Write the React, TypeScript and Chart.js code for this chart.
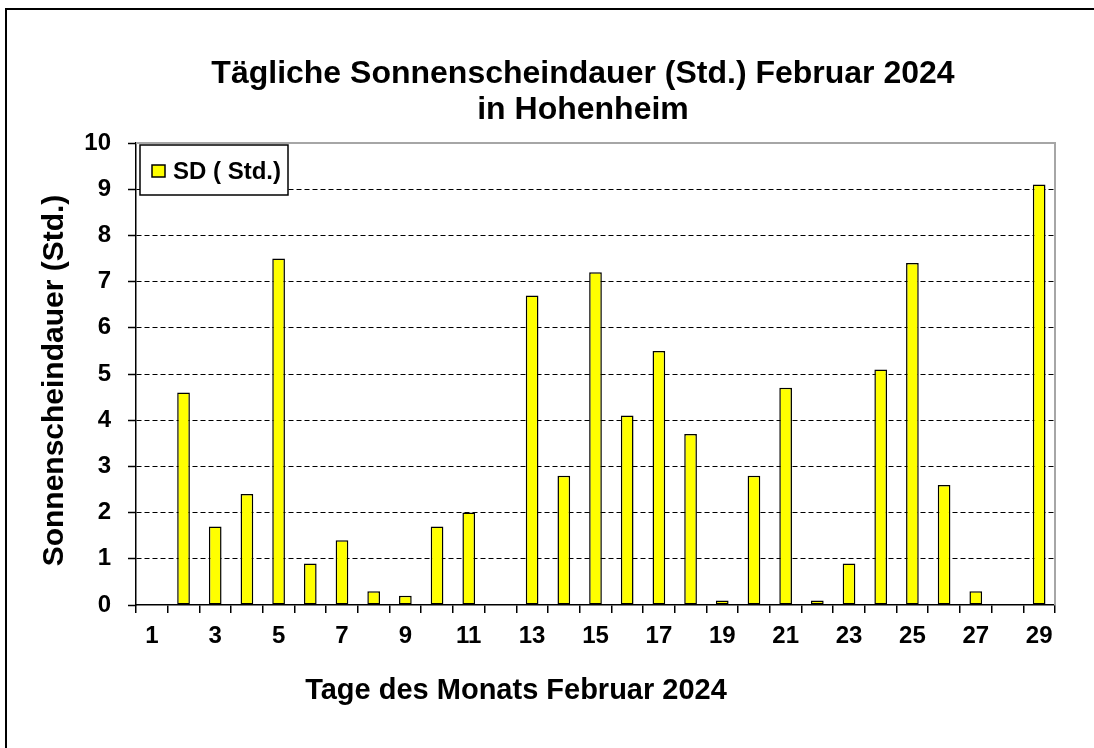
import React, { useEffect, useRef } from "react";
import { Chart, registerables } from "chart.js";

Chart.register(...registerables);

const days: string[] = [
  "1", "2", "3", "4", "5", "6", "7", "8", "9", "10",
  "11", "12", "13", "14", "15", "16", "17", "18", "19", "20",
  "21", "22", "23", "24", "25", "26", "27", "28", "29",
];
const sunshineHours: number[] = [
  0, 4.6, 1.7, 2.4, 7.5, 0.9, 1.4, 0.3, 0.2, 1.7,
  2.0, 0, 6.7, 2.8, 7.2, 4.1, 5.5, 3.7, 0.1, 2.8,
  4.7, 0.1, 0.9, 5.1, 7.4, 2.6, 0.3, 0, 9.1,
];
const xTickLabels: string[] = [
  "1", "", "3", "", "5", "", "7", "", "9", "",
  "11", "", "13", "", "15", "", "17", "", "19", "",
  "21", "", "23", "", "25", "", "27", "", "29",
];
const seriesLabel = "SD ( Std.)";
const titleLines: string[] = ["Tägliche Sonnenscheindauer (Std.) Februar 2024", "in Hohenheim"];
const xAxisTitle = "Tage des Monats Februar 2024";
const yAxisTitle = "Sonnenscheindauer (Std.)";

const FONT = '"Liberation Sans", Arial, sans-serif';

const decorPlugin = {
  id: "decor",
  beforeDatasetsDraw(chart: any) {
    const { ctx, chartArea } = chart;
    ctx.save();
    ctx.strokeStyle = "#a6a6a6";
    ctx.lineWidth = 2;
    ctx.beginPath();
    ctx.moveTo(chartArea.left, chartArea.top);
    ctx.lineTo(chartArea.right, chartArea.top);
    ctx.lineTo(chartArea.right, chartArea.bottom);
    ctx.stroke();
    ctx.restore();
  },
  afterDraw(chart: any) {
    const { ctx, chartArea } = chart;
    ctx.save();
    // legend box
    const lx = chartArea.left + 4;
    const ly = chartArea.top + 2;
    ctx.fillStyle = "#ffffff";
    ctx.fillRect(lx, ly, 148, 50);
    ctx.strokeStyle = "#000";
    ctx.lineWidth = 1.5;
    ctx.strokeRect(lx, ly, 148, 50);
    ctx.fillStyle = "#ffff00";
    ctx.fillRect(lx + 12, ly + 20, 13, 12);
    ctx.strokeRect(lx + 12, ly + 20, 13, 12);
    ctx.fillStyle = "#000";
    ctx.font = `bold 24px ${FONT}`;
    ctx.textAlign = "left";
    ctx.textBaseline = "alphabetic";
    ctx.fillText(seriesLabel, lx + 33, ly + 34);

    // titles
    ctx.textAlign = "center";
    ctx.font = `bold 32px ${FONT}`;
    ctx.fillText(titleLines[0], 583, 83);
    ctx.fillText(titleLines[1], 583, 119);
    ctx.font = `bold 29px ${FONT}`;
    ctx.fillText(xAxisTitle, 516, 699);
    ctx.font = `bold 30px ${FONT}`;
    ctx.translate(63, 380.5);
    ctx.rotate(-Math.PI / 2);
    ctx.fillText(yAxisTitle, 0, 0);
    ctx.restore();
  },
};

export default function App() {
  const canvasRef = useRef<HTMLCanvasElement | null>(null);

  useEffect(() => {
    document.body.style.margin = "0";
    document.body.style.overflow = "hidden";
    const canvas = canvasRef.current;
    if (!canvas) return;
    const chart = new Chart(canvas, {
      type: "bar",
      data: {
        labels: days,
        datasets: [
          {
            label: seriesLabel,
            data: sunshineHours,
            backgroundColor: "#ffff00",
            borderColor: "#000000",
            borderWidth: 1.5,
            borderSkipped: false,
            categoryPercentage: 1,
            barPercentage: 0.4,
          },
        ],
      },
      options: {
        responsive: false,
        animation: false,
        devicePixelRatio: 1,
        layout: { padding: { left: 0, top: 143, right: 39, bottom: 83 } },
        plugins: {
          legend: { display: false },
          title: { display: false },
          tooltip: { enabled: false },
        },
        scales: {
          x: {
            type: "category",
            offset: true,
            grid: {
              offset: true,
              drawOnChartArea: false,
              drawTicks: true,
              tickLength: 8,
              color: "#000",
              tickColor: "#000",
              lineWidth: 1.5,
            },
            border: { display: true, color: "#000", width: 1.5 },
            ticks: {
              autoSkip: false,
              maxRotation: 0,
              minRotation: 0,
              padding: 9,
              color: "#000",
              font: { family: FONT, size: 24, weight: "bold" },
              callback: (_v: any, i: number) => xTickLabels[i],
            },
            afterFit: (scale: any) => {
              scale.height = 60;
            },
          },
          y: {
            min: 0,
            max: 10,
            grid: {
              drawTicks: true,
              tickLength: 8,
              color: (c: any) => (c.tick && (c.tick.value === 10 || c.tick.value === 0) ? "rgba(0,0,0,0)" : "#000"),
              tickColor: "#000",
              tickBorderDash: [],
              lineWidth: 1,
              tickWidth: 1.5,
            },
            border: { display: true, color: "#000", width: 1.5, dash: [5, 3] },
            ticks: {
              stepSize: 1,
              padding: 17,
              color: "#000",
              font: { family: FONT, size: 24, weight: "bold" },
            },
            afterFit: (scale: any) => {
              scale.width = 136;
            },
          },
        },
      },
      plugins: [decorPlugin],
    });
    return () => chart.destroy();
  }, []);

  return (
    <div style={{ position: "relative", width: 1094, height: 748, overflow: "hidden", background: "#fff" }}>
      <canvas ref={canvasRef} width={1094} height={748} style={{ display: "block", position: "absolute", left: 0, top: 0 }} />
      <div
        style={{
          position: "absolute",
          left: 5,
          top: 8,
          width: 2000,
          height: 2000,
          borderLeft: "2px solid #000",
          borderTop: "2px solid #000",
          pointerEvents: "none",
        }}
      />
    </div>
  );
}
